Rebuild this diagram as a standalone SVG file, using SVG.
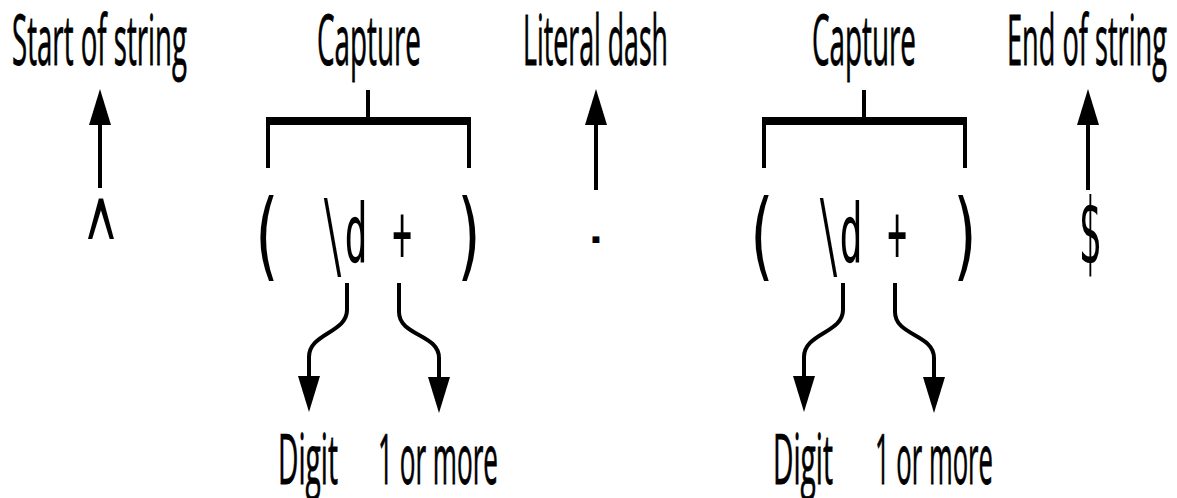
<svg xmlns="http://www.w3.org/2000/svg" width="1177" height="498" viewBox="0 0 1177 498">
<style>
.lbl{font-family:"Open Sans","Liberation Sans",sans-serif;font-size:70px;fill:#000;stroke:#000;stroke-width:0.8px;}
.sym{font-family:"DejaVu Sans Mono","Liberation Mono",monospace;font-size:82px;fill:#000;text-anchor:middle;}
.big{font-size:96px;}
.ln{fill:none;stroke:#000;stroke-width:4;}
.br{fill:none;stroke:#000;stroke-width:4;}
.bar{fill:#000;}
</style>
<defs>
<marker id="ah" markerUnits="userSpaceOnUse" markerWidth="38" markerHeight="24" refX="1" refY="11" orient="auto">
<path d="M0,0 L36,11 L0,22 z" fill="#000"/>
</marker>
</defs>
<rect width="1177" height="498" fill="#fff"/>

<g id="start">
<text class="lbl" x="12" y="65" textLength="175" lengthAdjust="spacingAndGlyphs">Start of string</text>
<text class="sym" style="font-size:148px" transform="translate(101,307) scale(0.33,1)">^</text>
</g>

<g id="capture1">
<text class="lbl" x="317" y="65" textLength="104" lengthAdjust="spacingAndGlyphs">Capture</text>
<rect class="bar" x="266" y="117" width="205" height="8"/>
<line class="br" x1="268" y1="121" x2="268" y2="168"/>
<line class="br" x1="469" y1="121" x2="469" y2="168"/>
<line class="br" x1="368" y1="90" x2="368" y2="121"/>
<text class="sym big" transform="translate(266,268) scale(0.62,1)">(</text>
<text class="sym big" transform="translate(333,268) scale(0.38,1)">\</text>
<text class="sym" transform="translate(356,262) scale(0.47,1)">d</text>
<text class="sym" transform="translate(402,262) scale(0.4,1)">+</text>
<text class="sym big" transform="translate(470,268) scale(0.62,1)">)</text>
</g>

<g id="dash">
<text class="lbl" x="523" y="65" textLength="145" lengthAdjust="spacingAndGlyphs">Literal dash</text>
<text class="sym" transform="translate(596,262) scale(0.33,1)">-</text>
</g>

<g id="capture2">
<text class="lbl" x="812" y="65" textLength="104" lengthAdjust="spacingAndGlyphs">Capture</text>
<rect class="bar" x="762" y="117" width="205" height="8"/>
<line class="br" x1="764" y1="121" x2="764" y2="168"/>
<line class="br" x1="965" y1="121" x2="965" y2="168"/>
<line class="br" x1="864" y1="90" x2="864" y2="121"/>
<text class="sym big" transform="translate(761,268) scale(0.62,1)">(</text>
<text class="sym big" transform="translate(829,268) scale(0.38,1)">\</text>
<text class="sym" transform="translate(851,262) scale(0.47,1)">d</text>
<text class="sym" transform="translate(897,262) scale(0.4,1)">+</text>
<text class="sym big" transform="translate(966,268) scale(0.62,1)">)</text>
</g>

<g id="end">
<text class="lbl" x="1007" y="65" textLength="160" lengthAdjust="spacingAndGlyphs">End of string</text>
<text class="sym" style="font-size:90px" transform="translate(1090,263) scale(0.42,1)">$</text>
</g>

<g id="digit1"><text class="lbl" x="278" y="484" textLength="60" lengthAdjust="spacingAndGlyphs">Digit</text></g>
<g id="more1"><text class="lbl" x="378" y="484" textLength="120" lengthAdjust="spacingAndGlyphs">1 or more</text></g>
<g id="digit2"><text class="lbl" x="773" y="484" textLength="60" lengthAdjust="spacingAndGlyphs">Digit</text></g>
<g id="more2"><text class="lbl" x="875" y="484" textLength="118" lengthAdjust="spacingAndGlyphs">1 or more</text></g>

<g id="connectors">
<line class="ln" x1="100" y1="188" x2="100" y2="124" marker-end="url(#ah)"/>
<line class="ln" x1="596" y1="190" x2="596" y2="124" marker-end="url(#ah)"/>
<line class="ln" x1="1088" y1="190" x2="1088" y2="124" marker-end="url(#ah)"/>
<path class="ln" d="M347,283 L347,310 C347,333 309,333 309,357 L309,377" marker-end="url(#ah)"/>
<path class="ln" d="M399,283 L399,312 C399,336 439,334 439,358 L439,378" marker-end="url(#ah)"/>
<path class="ln" d="M843,283 L843,310 C843,333 804,333 804,357 L804,377" marker-end="url(#ah)"/>
<path class="ln" d="M895,283 L895,312 C895,336 934,334 934,358 L934,378" marker-end="url(#ah)"/>
</g>
</svg>
